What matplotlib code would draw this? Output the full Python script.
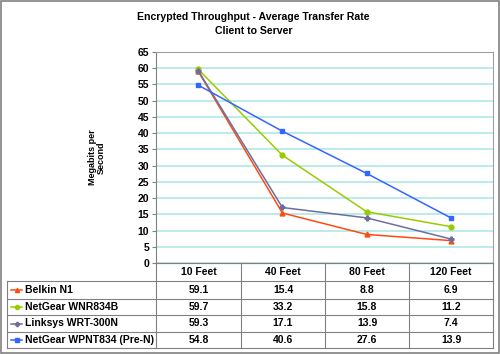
import matplotlib.pyplot as plt
import matplotlib as mpl
from matplotlib.lines import Line2D
from matplotlib.patches import Rectangle

mpl.rc('font', family=['Liberation Sans', 'DejaVu Sans'], weight='bold')

categories = ["10 Feet", "40 Feet", "80 Feet", "120 Feet"]
series_names = ["Belkin N1", "NetGear WNR834B", "Linksys WRT-300N", "NetGear WPNT834 (Pre-N)"]
belkin = [59.1, 15.4, 8.8, 6.9]
netgear_wnr = [59.7, 33.2, 15.8, 11.2]
linksys = [59.3, 17.1, 13.9, 7.4]
netgear_wpnt = [54.8, 40.6, 27.6, 13.9]
series = [belkin, netgear_wnr, linksys, netgear_wpnt]
colors = ["#FF4A12", "#99CC00", "#6E6E9E", "#3366FF"]
markers = ["^", "o", "P", "s"]

W, H = 500, 354
fig = plt.figure(figsize=(5, 3.54), dpi=100)

def fx(px):
    return px / W

def fy(py):
    return 1 - py / H

# outer frame
fig.patches.append(Rectangle((0.002, 0.003), 0.996, 0.994, transform=fig.transFigure,
                             fill=False, edgecolor="#808080", lw=1.2))

L, R, T, B = 156, 493, 52, 263
ax = fig.add_axes([fx(L), fy(B), fx(R) - fx(L), fy(T) - fy(B)])
x = range(len(categories))
for vals, c, m, n in zip(series, colors, markers, series_names):
    ax.plot(x, vals, color=c, marker=m, markersize=3.5, lw=1.1, label=n,
            markeredgecolor=c)
ax.set_xlim(-0.5, len(categories) - 0.5)
ax.set_ylim(0, 65)
ax.set_yticks(range(0, 66, 5))
ax.set_xticks([])
ax.yaxis.grid(True, color="#B0E8E8", lw=1.2)
ax.set_axisbelow(True)
for s in ax.spines.values():
    s.set_color("#A0A0A0")
ax.spines['left'].set_color("#808080")
ax.tick_params(axis='y', labelsize=7.5, length=3, color="#808080", pad=2)
ax.set_ylabel("Megabits per\nSecond", fontsize=6.5, fontweight='bold', labelpad=23,
              linespacing=1.0)

fig.text(0.507, fy(17), "Encrypted Throughput - Average Transfer Rate", ha='center',
         va='center', fontsize=7.6)
fig.text(0.507, fy(31), "Client to Server", ha='center', va='center', fontsize=7.6)

# data table
col_x = [156, 241, 325, 409, 493]
row_y = [263, 281, 299, 315, 332, 348]
tl = "#808080"
lines = []
# header row
lines.append(([col_x[0], col_x[-1]], [row_y[0], row_y[0]]))
for r in row_y[1:]:
    lines.append(([7, col_x[-1]], [r, r]))
for cx in col_x:
    lines.append(([cx, cx], [row_y[0], row_y[-1]]))
lines.append(([7, 7], [row_y[1], row_y[-1]]))
for xs, ys in lines:
    fig.add_artist(Line2D([fx(v) for v in xs], [fy(v) for v in ys], color=tl, lw=0.8))

for j, cat in enumerate(categories):
    cx = (col_x[j] + col_x[j + 1]) / 2
    fig.text(fx(cx), fy((row_y[0] + row_y[1]) / 2), cat, ha='center', va='center', fontsize=7.5)

for i, (vals, c, m, n) in enumerate(zip(series, colors, markers, series_names)):
    cy = (row_y[i + 1] + row_y[i + 2]) / 2
    fig.add_artist(Line2D([fx(11), fx(22)], [fy(cy), fy(cy)], color=c, lw=1.1))
    fig.add_artist(Line2D([fx(16.5)], [fy(cy)], color=c, marker=m, markersize=3,
                          markeredgecolor=c))
    fig.text(fx(25), fy(cy), n, ha='left', va='center', fontsize=7.5)
    for j, v in enumerate(vals):
        cx = (col_x[j] + col_x[j + 1]) / 2
        fig.text(fx(cx), fy(cy), f"{v:.1f}", ha='center', va='center', fontsize=7.5)

fig.savefig("out.png", dpi=100)
